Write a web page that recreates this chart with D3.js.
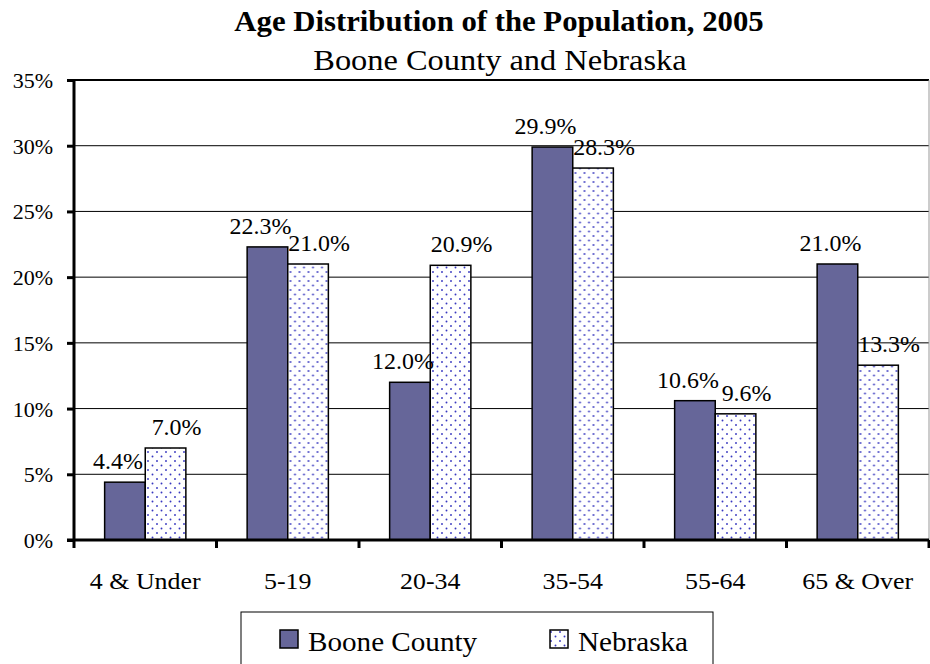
<!DOCTYPE html>
<html>
<head>
<meta charset="utf-8">
<script src="https://cdn.jsdelivr.net/npm/d3@7"></script>
<style>
  html, body { margin: 0; padding: 0; background: #fff; }
  svg text { font-family: "Liberation Serif", "Times New Roman", serif; fill: #000; }
</style>
</head>
<body>
<svg id="chart" width="930" height="664"></svg>
<script>
const categories = ["4 & Under", "5-19", "20-34", "35-54", "55-64", "65 & Over"];
const seriesNames = ["Boone County", "Nebraska"];
const booneValues = [4.4, 22.3, 12.0, 29.9, 10.6, 21.0];
const nebraskaValues = [7.0, 21.0, 20.9, 28.3, 9.6, 13.3];
const yTicks = [0, 5, 10, 15, 20, 25, 30, 35];
const titleText = "Age Distribution of the Population, 2005";
const subtitleText = "Boone County and Nebraska";

const svg = d3.select("#chart");
const plot = { left: 74, right: 929, top: 80, bottom: 540 };

const defs = svg.append("defs");
const pat = defs.append("pattern").attr("id", "dots")
  .attr("patternUnits", "userSpaceOnUse").attr("width", 9).attr("height", 9);
pat.append("rect").attr("width", 9).attr("height", 9).attr("fill", "#fff");
pat.append("circle").attr("cx", 2).attr("cy", 2).attr("r", 0.95).attr("fill", "#3838c0");
pat.append("circle").attr("cx", 6.5).attr("cy", 6.5).attr("r", 0.95).attr("fill", "#3838c0");

const x0 = d3.scaleBand().domain(categories).range([plot.left, plot.right]).padding(0);
const step = x0.bandwidth();
const x1 = d3.scaleBand().domain(seriesNames).range([step * 0.215, step * 0.785]).padding(0);
const y = d3.scaleLinear().domain([0, 35]).range([plot.bottom, plot.top]);

function txt(g, x, yy, s, anchor, size, weight, sx) {
  return g.append("text")
    .attr("transform", `translate(${x},${yy}) scale(${sx || 1},1)`)
    .attr("text-anchor", anchor)
    .style("font-size", size + "px")
    .style("font-weight", weight || "normal")
    .text(s);
}

// gridlines
svg.append("g").selectAll("line").data(yTicks.filter(d => d > 0)).join("line")
  .attr("x1", plot.left).attr("x2", plot.right)
  .attr("y1", d => y(d)).attr("y2", d => y(d))
  .attr("stroke", "#000").attr("stroke-width", d => d === 35 ? 2 : 1);
svg.append("line").attr("x1", plot.right).attr("x2", plot.right)
  .attr("y1", plot.top).attr("y2", plot.bottom)
  .attr("stroke", "#999").attr("stroke-width", 1);

// bars
const data = categories.map((c, i) => ({ cat: c, vals: [
  { s: seriesNames[0], v: booneValues[i] },
  { s: seriesNames[1], v: nebraskaValues[i] }] }));

const groups = svg.append("g").selectAll("g").data(data).join("g")
  .attr("transform", d => `translate(${x0(d.cat)},0)`);
groups.selectAll("rect").data(d => d.vals).join("rect")
  .attr("x", d => x1(d.s))
  .attr("y", d => y(d.v))
  .attr("width", x1.bandwidth())
  .attr("height", d => y(0) - y(d.v))
  .attr("fill", d => d.s === seriesNames[0] ? "#666699" : "url(#dots)")
  .attr("stroke", "#000").attr("stroke-width", 1.5);

// data labels
groups.each(function(d) {
  const g = d3.select(this);
  d.vals.forEach((e, j) => {
    const cx = x1(e.s) + x1.bandwidth() / 2 + (j === 0 ? -7 : 11);
    txt(g, cx, y(e.v) - 13, e.v.toFixed(1) + "%", "middle", 23, "normal", 1.04);
  });
});

// y axis
const yAxis = d3.axisLeft(y).tickValues(yTicks).tickSize(7).tickFormat(d => d + "%");
const ya = svg.append("g").attr("transform", `translate(${plot.left},0)`).call(yAxis);
ya.select(".domain").attr("stroke", "#000").attr("stroke-width", 3)
  .attr("d", `M0,${plot.top - 1}V${plot.bottom + 1}`);
ya.selectAll(".tick line").attr("stroke", "#000").attr("stroke-width", 3);
ya.selectAll(".tick text").remove();
yTicks.forEach(t => txt(svg, 53, y(t) + 8, t + "%", "end", 22));

// x axis
const xa = svg.append("g").attr("transform", `translate(0,${plot.bottom})`);
xa.append("line").attr("x1", plot.left - 7).attr("x2", plot.right)
  .attr("y1", 0).attr("y2", 0).attr("stroke", "#000").attr("stroke-width", 3);
const boundaries = categories.map(c => x0(c)).concat([x0(categories[categories.length - 1]) + step]);
xa.selectAll("line.tk").data(boundaries).join("line").attr("class", "tk")
  .attr("x1", d => d).attr("x2", d => d).attr("y1", 0).attr("y2", 8)
  .attr("stroke", "#000").attr("stroke-width", 3);
categories.forEach(c => txt(svg, x0(c) + step / 2, 589, c, "middle", 24, "normal", 1.08));

// titles
txt(svg, 499, 31, titleText, "middle", 29, "bold", 1.06);
txt(svg, 500, 70, subtitleText, "middle", 30, "normal", 1.08);

// legend
const lg = svg.append("g");
lg.append("rect").attr("x", 241).attr("y", 612).attr("width", 472).attr("height", 70)
  .attr("fill", "#fff").attr("stroke", "#000").attr("stroke-width", 1);
const legendItems = [
  { name: seriesNames[0], sx: 280, tx: 308 },
  { name: seriesNames[1], sx: 550, tx: 578 }
];
legendItems.forEach((it, i) => {
  lg.append("rect").attr("x", it.sx).attr("y", 630).attr("width", 18).attr("height", 18)
    .attr("fill", i === 0 ? "#666699" : "url(#dots)")
    .attr("stroke", "#000").attr("stroke-width", 1.5);
  txt(lg, it.tx, 651, it.name, "start", 27.5, "normal", 1.06);
});
</script>
</body>
</html>
